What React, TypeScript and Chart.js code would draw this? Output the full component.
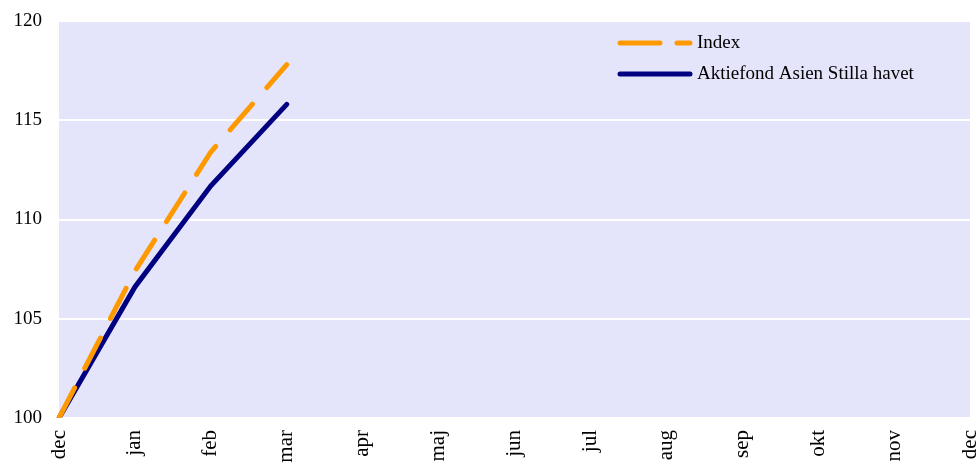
import React, { useEffect, useRef } from "react";
import { Chart, registerables } from "chart.js";

Chart.register(...registerables);

const months = ["dec", "jan", "feb", "mar", "apr", "maj", "jun", "jul", "aug", "sep", "okt", "nov", "dec"];
const indexValues = [100, 107.4, 113.4, 117.8, null, null, null, null, null, null, null, null, null];
const fundValues = [100, 106.6, 111.7, 115.8, null, null, null, null, null, null, null, null, null];
const yTicks = [100, 105, 110, 115, 120];
const seriesNames = ["Index", "Aktiefond Asien Stilla havet"];

const FONT = "'Liberation Serif', 'Times New Roman', serif";
const ORANGE = "#FF9900";
const NAVY = "#000080";

const bgPlugin = {
  id: "plotBg",
  beforeDraw(chart: any) {
    const { ctx, chartArea } = chart;
    ctx.save();
    ctx.fillStyle = "#E4E4FA";
    ctx.fillRect(chartArea.left, chartArea.top, chartArea.right - chartArea.left, chartArea.bottom - chartArea.top);
    ctx.restore();
  },
};

const legendPlugin = {
  id: "insideLegend",
  afterDatasetsDraw(chart: any) {
    const { ctx, chartArea } = chart;
    const x0 = chartArea.right - 350;
    const rows = [
      { name: seriesNames[0], color: ORANGE, dash: [40, 17], y: chartArea.top + 22 },
      { name: seriesNames[1], color: NAVY, dash: [], y: chartArea.top + 53 },
    ];
    ctx.save();
    rows.forEach((r) => {
      ctx.beginPath();
      ctx.strokeStyle = r.color;
      ctx.lineWidth = 5;
      ctx.lineCap = "round";
      ctx.setLineDash(r.dash);
      ctx.moveTo(x0, r.y);
      ctx.lineTo(x0 + 70, r.y);
      ctx.stroke();
      ctx.setLineDash([]);
      ctx.fillStyle = "#000";
      ctx.font = `19px ${FONT}`;
      ctx.textBaseline = "middle";
      ctx.textAlign = "left";
      ctx.fillText(r.name, x0 + 77, r.y);
    });
    ctx.restore();
  },
};

export default function App() {
  const ref = useRef<HTMLCanvasElement | null>(null);
  useEffect(() => {
    if (!ref.current) return;
    const chart = new Chart(ref.current, {
      type: "line",
      data: {
        labels: months,
        datasets: [
          {
            label: seriesNames[0],
            data: indexValues,
            borderColor: ORANGE,
            borderWidth: 5,
            borderDash: [34, 22],
            borderCapStyle: "round",
            pointRadius: 0,
            fill: false,
            tension: 0,
          },
          {
            label: seriesNames[1],
            data: fundValues,
            borderColor: NAVY,
            borderWidth: 5,
            borderCapStyle: "round",
            pointRadius: 0,
            fill: false,
            tension: 0,
          },
        ],
      },
      options: {
        responsive: true,
        maintainAspectRatio: false,
        animation: false,
        layout: { padding: { top: 21, right: 9, left: 0, bottom: 0 } },
        plugins: {
          legend: { display: false },
          tooltip: { enabled: false },
        },
        scales: {
          x: {
            offset: false,
            grid: { display: false, drawTicks: false },
            border: { display: false },
            ticks: {
              autoSkip: false,
              maxRotation: 90,
              minRotation: 90,
              padding: 12,
              color: "#000",
              font: { family: FONT, size: 21 },
            },
            afterFit: (s: any) => {
              s.height = 49;
              s.paddingLeft = 0;
              s.paddingRight = 0;
            },
          },
          y: {
            min: 100,
            max: 120,
            afterBuildTicks: (s: any) => {
              s.ticks = yTicks.map((v) => ({ value: v }));
            },
            grid: { color: "#FFFFFF", lineWidth: 2, drawTicks: false },
            border: { display: false },
            ticks: {
              padding: 17,
              color: "#000",
              font: { family: FONT, size: 19 },
            },
            afterFit: (s: any) => {
              s.width = 59;
              s.paddingTop = 0;
              s.paddingBottom = 0;
            },
          },
        },
      },
      plugins: [bgPlugin, legendPlugin],
    });
    return () => chart.destroy();
  }, []);
  return (
    <div style={{ position: "fixed", left: 0, top: 0, width: 979, height: 467 }}>
      <canvas ref={ref} />
    </div>
  );
}
